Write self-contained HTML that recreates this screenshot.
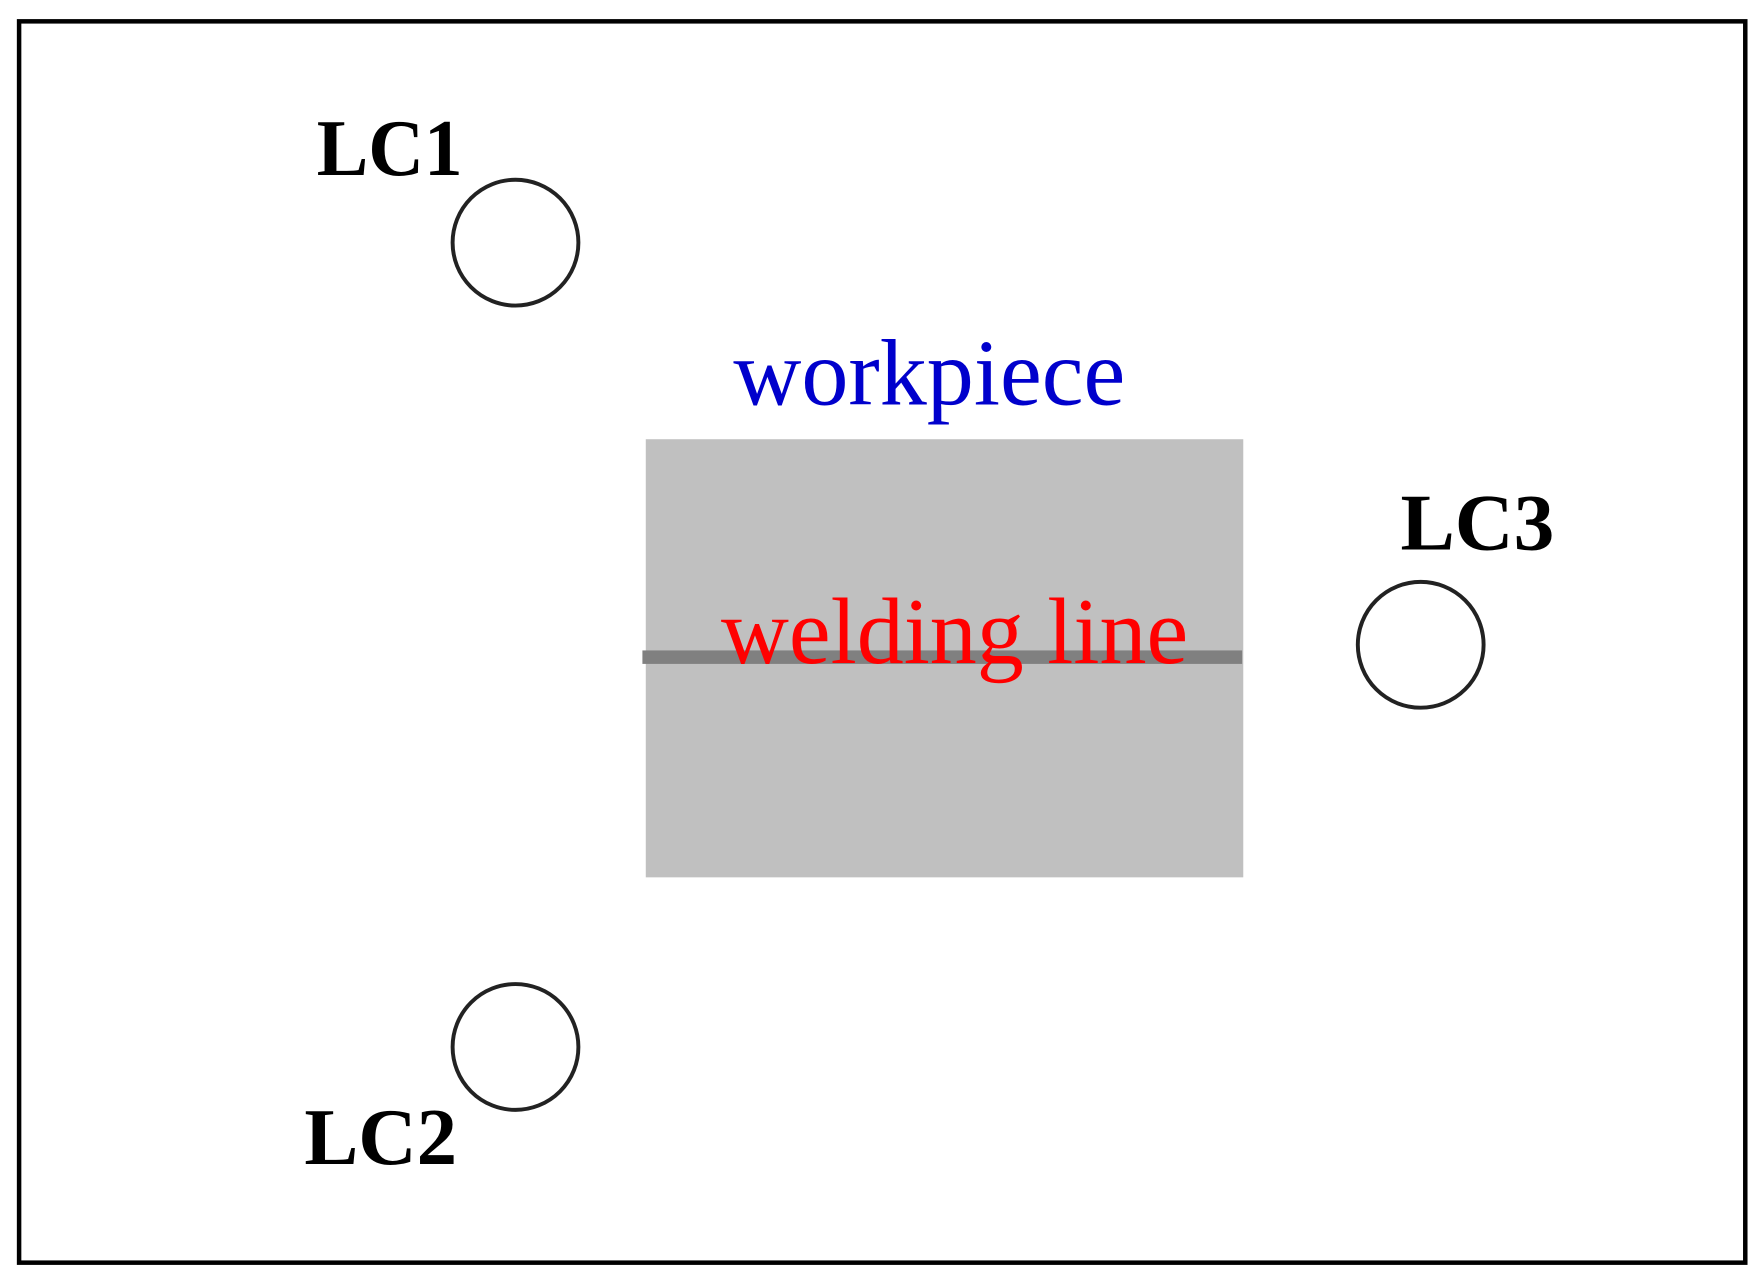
<!DOCTYPE html>
<html><head><meta charset="utf-8"><style>
html,body{margin:0;padding:0;background:#fff;}
svg{display:block;}
</style></head><body>
<svg width="1761" height="1284" viewBox="0 0 1568 1143" preserveAspectRatio="none" xmlns="http://www.w3.org/2000/svg">
<rect x="0" y="0" width="1568" height="1143" fill="#fff"/>
<rect x="17" y="19" width="1537" height="1105" fill="none" stroke="#000" stroke-width="4"/>
<rect x="575" y="391" width="532" height="390" fill="#c0c0c0"/>
<rect x="572" y="579" width="534" height="12" fill="#808080"/>
<circle cx="459" cy="216" r="56" fill="none" stroke="#222" stroke-width="3.5"/>
<circle cx="1265" cy="574" r="56" fill="none" stroke="#222" stroke-width="3.5"/>
<circle cx="459" cy="932" r="56" fill="none" stroke="#222" stroke-width="3.5"/>
<g font-family="Liberation Serif, serif">
<text x="282" y="156" font-size="72" font-weight="bold" textLength="130" lengthAdjust="spacingAndGlyphs">LC1</text>
<text x="1247" y="489" font-size="72" font-weight="bold" textLength="137" lengthAdjust="spacingAndGlyphs">LC3</text>
<text x="271" y="1036" font-size="72" font-weight="bold" textLength="136" lengthAdjust="spacingAndGlyphs">LC2</text>
<text x="653" y="360" font-size="84" fill="#0000cc" textLength="349" lengthAdjust="spacingAndGlyphs">workpiece</text>
<text x="642" y="590" font-size="84" fill="#ff0000" textLength="416" lengthAdjust="spacingAndGlyphs">welding line</text>
</g>
</svg>
</body></html>
